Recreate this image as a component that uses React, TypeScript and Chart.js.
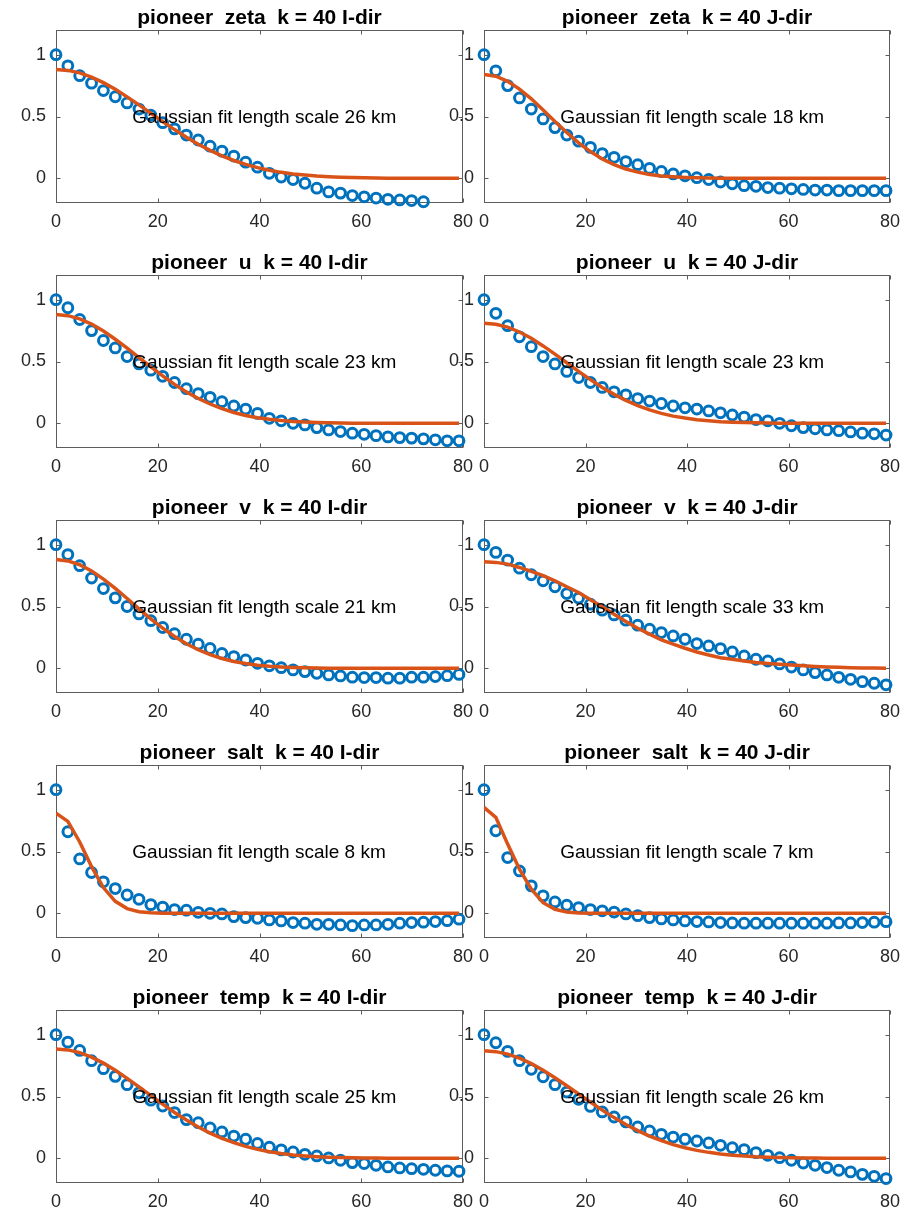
import React, { useEffect, useRef } from 'react';
import { Chart, registerables } from 'chart.js';

Chart.register(...registerables);

// ---------- data ----------
const DIST_KM = [0, 2.33, 4.66, 6.99, 9.32, 11.65, 13.98, 16.31, 18.64, 20.97, 23.3, 25.63, 27.96, 30.29, 32.62, 34.95, 37.28, 39.61, 41.94, 44.27, 46.6, 48.93, 51.26, 53.59, 55.92, 58.25, 60.58, 62.91, 65.24, 67.57, 69.9, 72.23, 74.56, 76.89, 79.22];

const X_TICKS = [0, 20, 40, 60, 80];
const Y_TICKS = [0, 0.5, 1];

const TITLES = [
  'pioneer  zeta  k = 40 I-dir',
  'pioneer  zeta  k = 40 J-dir',
  'pioneer  u  k = 40 I-dir',
  'pioneer  u  k = 40 J-dir',
  'pioneer  v  k = 40 I-dir',
  'pioneer  v  k = 40 J-dir',
  'pioneer  salt  k = 40 I-dir',
  'pioneer  salt  k = 40 J-dir',
  'pioneer  temp  k = 40 I-dir',
  'pioneer  temp  k = 40 J-dir',
];

const FIT_SCALE_KM = [26, 18, 23, 23, 21, 33, 8, 7, 25, 26];

const CORR_ZETA_I = [1.0, 0.91, 0.83, 0.77, 0.71, 0.66, 0.61, 0.56, 0.51, 0.45, 0.40, 0.35, 0.31, 0.26, 0.22, 0.18, 0.13, 0.09, 0.04, 0.01, -0.01, -0.04, -0.08, -0.11, -0.12, -0.14, -0.15, -0.16, -0.17, -0.175, -0.18, -0.19];
const FIT_ZETA_I = [0.88, 0.873, 0.853, 0.819, 0.774, 0.72, 0.659, 0.594, 0.526, 0.459, 0.394, 0.333, 0.276, 0.226, 0.182, 0.144, 0.113, 0.086, 0.065, 0.048, 0.035, 0.026, 0.018, 0.013, 0.009, 0.006, 0.004, 0.002, 0.001, 0.001, 0, 0, 0, 0, 0];

const CORR_ZETA_J = [1.0, 0.87, 0.75, 0.65, 0.56, 0.48, 0.41, 0.35, 0.30, 0.25, 0.20, 0.17, 0.135, 0.11, 0.08, 0.055, 0.035, 0.02, 0.005, -0.01, -0.03, -0.045, -0.06, -0.065, -0.075, -0.08, -0.085, -0.09, -0.095, -0.095, -0.1, -0.1, -0.1, -0.1, -0.1];
const FIT_ZETA_J = [0.84, 0.826, 0.785, 0.722, 0.643, 0.553, 0.459, 0.37, 0.287, 0.216, 0.157, 0.111, 0.075, 0.05, 0.031, 0.019, 0.012, 0.007, 0.004, 0.002, 0.001, 0, 0, 0, 0, 0, 0, 0, 0, 0, 0, 0, 0, 0, 0];

const CORR_U_I = [1.0, 0.935, 0.84, 0.75, 0.67, 0.61, 0.54, 0.48, 0.43, 0.38, 0.33, 0.28, 0.24, 0.21, 0.175, 0.14, 0.115, 0.08, 0.04, 0.02, 0.0, -0.013, -0.035, -0.054, -0.067, -0.08, -0.089, -0.1, -0.11, -0.116, -0.12, -0.126, -0.134, -0.142, -0.142];
const FIT_U_I = [0.88, 0.871, 0.845, 0.803, 0.747, 0.68, 0.608, 0.532, 0.456, 0.384, 0.315, 0.254, 0.201, 0.156, 0.118, 0.087, 0.063, 0.045, 0.032, 0.022, 0.015, 0.01, 0.006, 0.004, 0.002, 0.001, 0, 0, 0, 0, 0, 0, 0, 0, 0];

const CORR_U_J = [1.0, 0.89, 0.79, 0.70, 0.62, 0.54, 0.48, 0.42, 0.37, 0.33, 0.29, 0.255, 0.23, 0.20, 0.18, 0.16, 0.14, 0.125, 0.115, 0.10, 0.085, 0.067, 0.05, 0.03, 0.02, 0.0, -0.02, -0.035, -0.045, -0.054, -0.06, -0.07, -0.08, -0.085, -0.095];
const FIT_U_J = [0.81, 0.802, 0.778, 0.739, 0.688, 0.626, 0.56, 0.49, 0.42, 0.353, 0.29, 0.234, 0.185, 0.143, 0.109, 0.08, 0.058, 0.042, 0.029, 0.02, 0.013, 0.009, 0.006, 0.004, 0.002, 0.001, 0, 0, 0, 0, 0, 0, 0, 0, 0];

const CORR_V_I = [1.0, 0.92, 0.83, 0.73, 0.645, 0.57, 0.50, 0.44, 0.385, 0.33, 0.28, 0.235, 0.195, 0.16, 0.12, 0.095, 0.067, 0.04, 0.02, 0.005, -0.013, -0.027, -0.04, -0.054, -0.062, -0.072, -0.075, -0.075, -0.08, -0.08, -0.072, -0.072, -0.067, -0.06, -0.05];
const FIT_V_I = [0.88, 0.869, 0.838, 0.788, 0.722, 0.647, 0.565, 0.481, 0.4, 0.325, 0.257, 0.198, 0.15, 0.11, 0.079, 0.055, 0.038, 0.025, 0.016, 0.01, 0.006, 0.004, 0.002, 0.001, 0, 0, 0, 0, 0, 0, 0, 0, 0, 0, 0];

const CORR_V_J = [1.0, 0.938, 0.876, 0.81, 0.757, 0.708, 0.66, 0.605, 0.568, 0.519, 0.47, 0.432, 0.389, 0.349, 0.316, 0.289, 0.262, 0.235, 0.2, 0.181, 0.159, 0.132, 0.1, 0.073, 0.059, 0.035, 0.01, -0.013, -0.035, -0.054, -0.073, -0.089, -0.108, -0.121, -0.134];
const FIT_V_J = [0.862, 0.857, 0.843, 0.816, 0.784, 0.749, 0.708, 0.66, 0.614, 0.554, 0.497, 0.438, 0.378, 0.324, 0.276, 0.23, 0.195, 0.162, 0.132, 0.108, 0.086, 0.073, 0.059, 0.046, 0.038, 0.032, 0.026, 0.02, 0.015, 0.011, 0.008, 0.005, 0.003, 0.002, 0.001];

const CORR_SALT_I = [1.0, 0.66, 0.44, 0.33, 0.255, 0.2, 0.148, 0.113, 0.07, 0.05, 0.03, 0.025, 0.008, 0.0, -0.005, -0.027, -0.035, -0.04, -0.054, -0.062, -0.075, -0.08, -0.089, -0.089, -0.094, -0.1, -0.094, -0.094, -0.089, -0.08, -0.075, -0.072, -0.067, -0.06, -0.048];
const FIT_SALT_I = [0.81, 0.744, 0.577, 0.378, 0.208, 0.097, 0.038, 0.013, 0.004, 0.001, 0, 0, 0, 0, 0, 0, 0, 0, 0, 0, 0, 0, 0, 0, 0, 0, 0, 0, 0, 0, 0, 0, 0, 0, 0];

const CORR_SALT_J = [1.0, 0.668, 0.451, 0.343, 0.222, 0.141, 0.092, 0.065, 0.046, 0.03, 0.02, 0.01, -0.005, -0.019, -0.035, -0.046, -0.054, -0.062, -0.067, -0.07, -0.075, -0.078, -0.08, -0.08, -0.08, -0.08, -0.08, -0.08, -0.08, -0.08, -0.078, -0.078, -0.075, -0.072, -0.068];
const FIT_SALT_J = [0.857, 0.776, 0.56, 0.357, 0.195, 0.086, 0.032, 0.011, 0.003, 0, 0, 0, 0, 0, 0, 0, 0, 0, 0, 0, 0, 0, 0, 0, 0, 0, 0, 0, 0, 0, 0, 0, 0, 0, 0];

const CORR_TEMP_I = [1.0, 0.94, 0.873, 0.79, 0.725, 0.663, 0.596, 0.53, 0.47, 0.423, 0.37, 0.313, 0.288, 0.245, 0.213, 0.18, 0.154, 0.12, 0.09, 0.068, 0.051, 0.032, 0.019, 0.003, -0.016, -0.035, -0.043, -0.057, -0.07, -0.078, -0.084, -0.089, -0.097, -0.102, -0.105];
const FIT_TEMP_I = [0.885, 0.877, 0.855, 0.819, 0.77, 0.712, 0.647, 0.578, 0.507, 0.438, 0.371, 0.31, 0.253, 0.204, 0.161, 0.126, 0.096, 0.072, 0.053, 0.038, 0.027, 0.019, 0.013, 0.009, 0.006, 0.004, 0.002, 0.002, 0.001, 0, 0, 0, 0, 0, 0];

const CORR_TEMP_J = [1.0, 0.935, 0.865, 0.79, 0.72, 0.66, 0.596, 0.536, 0.477, 0.42, 0.375, 0.334, 0.294, 0.253, 0.221, 0.194, 0.172, 0.154, 0.14, 0.124, 0.105, 0.086, 0.07, 0.046, 0.024, 0.005, -0.016, -0.038, -0.057, -0.075, -0.097, -0.11, -0.13, -0.146, -0.164];
const FIT_TEMP_J = [0.87, 0.863, 0.843, 0.81, 0.766, 0.712, 0.652, 0.587, 0.52, 0.454, 0.39, 0.329, 0.273, 0.224, 0.18, 0.143, 0.111, 0.085, 0.064, 0.048, 0.035, 0.025, 0.018, 0.012, 0.009, 0.006, 0.004, 0.003, 0.002, 0.001, 0, 0, 0, 0, 0];

const CORR_SERIES = [CORR_ZETA_I, CORR_ZETA_J, CORR_U_I, CORR_U_J, CORR_V_I, CORR_V_J, CORR_SALT_I, CORR_SALT_J, CORR_TEMP_I, CORR_TEMP_J];
const FIT_SERIES = [FIT_ZETA_I, FIT_ZETA_J, FIT_U_I, FIT_U_J, FIT_V_I, FIT_V_J, FIT_SALT_I, FIT_SALT_J, FIT_TEMP_I, FIT_TEMP_J];

// ---------- layout / style ----------
const FONT = '"Liberation Sans", Arial, Helvetica, sans-serif';
const COL_LEFT = [56, 484];
const COL_W = [407, 406];
const ROW_TOP = [30, 275, 520, 765, 1010];
const AX_H = 173;
const PAD_L = 56;
const PAD_T = 30;
const PAD_R = 20;
const PAD_B = 42;

const framePlugin = {
  id: 'matlabFrame',
  beforeDatasetsDraw(chart: any) {
    const { ctx, chartArea } = chart;
    const xs = chart.scales.x;
    const ys = chart.scales.y;
    const l = Math.round(chartArea.left) + 0.5;
    const r = Math.round(chartArea.right) - 0.5;
    const t = Math.round(chartArea.top) + 0.5;
    const b = Math.round(chartArea.bottom) - 0.5;
    ctx.save();
    ctx.strokeStyle = '#5c5c5c';
    ctx.lineWidth = 1;
    ctx.strokeRect(l, t, r - l, b - t);
    ctx.beginPath();
    const tl = 4;
    X_TICKS.forEach((v) => {
      const px = Math.round(xs.getPixelForValue(v)) + 0.5;
      ctx.moveTo(px, b); ctx.lineTo(px, b - tl);
      ctx.moveTo(px, t); ctx.lineTo(px, t + tl);
    });
    Y_TICKS.forEach((v) => {
      const py = Math.round(ys.getPixelForValue(v)) + 0.5;
      ctx.moveTo(l, py); ctx.lineTo(l + tl, py);
      ctx.moveTo(r, py); ctx.lineTo(r - tl, py);
    });
    ctx.stroke();
    ctx.restore();
  },
  afterDraw(chart: any) {
    const { ctx, chartArea } = chart;
    const opts = chart.options.plugins.matlabFrame || {};
    const xs = chart.scales.x;
    const ys = chart.scales.y;
    ctx.save();
    ctx.fillStyle = '#000';
    ctx.font = `19px ${FONT}`;
    ctx.textAlign = 'left';
    ctx.textBaseline = 'middle';
    ctx.fillText(opts.note || '', xs.getPixelForValue(15), ys.getPixelForValue(0.5) + 1);
    ctx.font = `bold 21px ${FONT}`;
    ctx.textAlign = 'center';
    ctx.textBaseline = 'alphabetic';
    ctx.fillText(opts.title || '', (chartArea.left + chartArea.right) / 2, chartArea.top - 6);
    ctx.restore();
  },
};

function Panel({ idx }: { idx: number }) {
  const ref = useRef<HTMLCanvasElement>(null);
  const col = idx % 2;
  const row = Math.floor(idx / 2);
  const width = PAD_L + COL_W[col] + PAD_R;
  const height = PAD_T + AX_H + PAD_B;
  const left = COL_LEFT[col] - PAD_L;
  const top = ROW_TOP[row] - PAD_T;

  useEffect(() => {
    const corr = CORR_SERIES[idx];
    const fit = FIT_SERIES[idx];
    const chart = new Chart(ref.current as HTMLCanvasElement, {
      type: 'scatter',
      data: {
        datasets: [
          {
            label: 'fit',
            data: fit.map((y, i) => ({ x: DIST_KM[i], y })),
            showLine: true,
            borderColor: '#D95319',
            backgroundColor: '#D95319',
            borderWidth: 3.5,
            pointRadius: 0,
            tension: 0,
            order: 0,
          } as any,
          {
            label: 'corr',
            data: corr.map((y, i) => ({ x: DIST_KM[i], y })),
            showLine: false,
            pointStyle: 'circle',
            pointRadius: 4.9,
            pointBorderWidth: 3,
            borderColor: '#0072BD',
            pointBorderColor: '#0072BD',
            backgroundColor: 'rgba(0,0,0,0)',
            pointBackgroundColor: 'rgba(0,0,0,0)',
            clip: false,
            order: 1,
          } as any,
        ],
      },
      options: {
        animation: false,
        responsive: false,
        devicePixelRatio: 1,
        events: [],
        layout: { padding: { left: 0, top: PAD_T, right: PAD_R, bottom: 0 } },
        plugins: {
          legend: { display: false },
          tooltip: { enabled: false },
          title: { display: false },
          matlabFrame: { title: TITLES[idx], note: `Gaussian fit length scale ${FIT_SCALE_KM[idx]} km` },
        } as any,
        scales: {
          x: {
            type: 'linear',
            min: 0,
            max: 80,
            grid: { display: false, drawTicks: false },
            border: { display: false },
            ticks: {
              color: '#262626',
              font: { family: FONT, size: 18 },
              padding: 8,
              maxRotation: 0,
              autoSkip: false,
              callback: (v: any) => String(v),
            },
            afterBuildTicks: (s: any) => { s.ticks = X_TICKS.map((v) => ({ value: v })); },
            afterFit: (s: any) => { s.height = PAD_B; },
          },
          y: {
            type: 'linear',
            min: -0.2,
            max: 1.2,
            grid: { display: false, drawTicks: false },
            border: { display: false },
            ticks: {
              color: '#262626',
              font: { family: FONT, size: 18 },
              padding: 10,
              autoSkip: false,
              callback: (v: any) => String(v),
            },
            afterBuildTicks: (s: any) => { s.ticks = Y_TICKS.map((v) => ({ value: v })); },
            afterFit: (s: any) => { s.width = PAD_L; },
          },
        },
      } as any,
      plugins: [framePlugin],
    });
    return () => chart.destroy();
  }, [idx]);

  return (
    <canvas
      ref={ref}
      width={width}
      height={height}
      style={{ position: 'absolute', left, top, width, height }}
    />
  );
}

export default function App() {
  return (
    <div style={{ position: 'absolute', left: 0, top: 0, width: 909, height: 1212, background: '#fff', overflow: 'hidden' }}>
      {TITLES.map((_, i) => (
        <Panel key={i} idx={i} />
      ))}
    </div>
  );
}
